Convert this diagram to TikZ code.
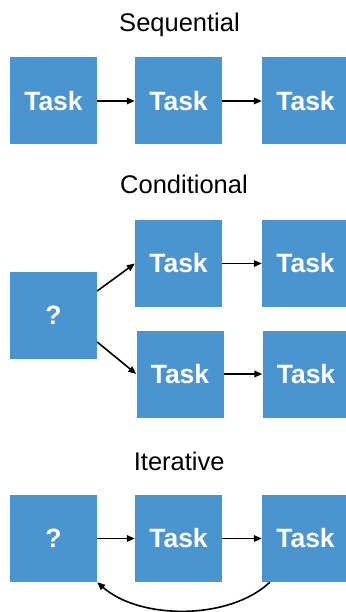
\documentclass[tikz,border=0pt]{standalone}
\usepackage{fontspec}
\setmainfont{Liberation Sans}
\usetikzlibrary{arrows.meta}
\definecolor{boxblue}{HTML}{4A95D0}
\begin{document}
\begin{tikzpicture}[x=1pt,y=-1pt,
  box/.style={fill=boxblue, minimum width=87pt, minimum height=87pt, inner sep=0pt, text=white, font=\fontsize{26.5}{31}\selectfont\bfseries},
  title/.style={anchor=base, inner sep=0pt, font=\fontsize{25.5}{30}\selectfont},
  arr/.style={-{Triangle[length=8pt,width=6.5pt]}, line width=1.6pt, black}]
\useasboundingbox (0,0) rectangle (345,612);
% Sequential
\node[title] (tseq) at (179.5,31.7) {Sequential};
\node[box] (s1) at (53.5,101) {Task};
\node[box] (s2) at (178.5,101) {Task};
\node[box] (s3) at (305.5,101) {Task};
\draw[arr] (s1) -- (s2);
\draw[arr] (s2) -- (s3);
% Conditional
\node[title] (tcond) at (184,193.3) {Conditional};
\node[box] (cq) at (53.5,315.5) {?};
\node[box] (cu1) at (178.5,263.5) {Task};
\node[box] (cu2) at (305.5,263.5) {Task};
\node[box] (cl1) at (180,374) {Task};
\node[box] (cl2) at (306,374) {Task};
\draw[arr] ([yshift=24.5pt]cq.east) -- (cu1.west);
\draw[arr] ([yshift=-26.5pt]cq.east) -- (cl1.west);
\draw[arr] (cu1) -- (cu2);
\draw[arr] (cl1) -- (cl2);
% Iterative
\node[title] (titer) at (179.2,470.7) {Iterative};
\node[box] (i1) at (53.5,538.5) {?};
\node[box] (i2) at (178.5,538.5) {Task};
\node[box] (i3) at (305.5,538.5) {Task};
\draw[arr] (i1) -- (i2);
\draw[arr] (i2) -- (i3);
\draw[arr] ([xshift=8pt]i3.south west) .. controls +(-40,38) and +(43,38) .. (i1.south east);
\end{tikzpicture}
\end{document}
